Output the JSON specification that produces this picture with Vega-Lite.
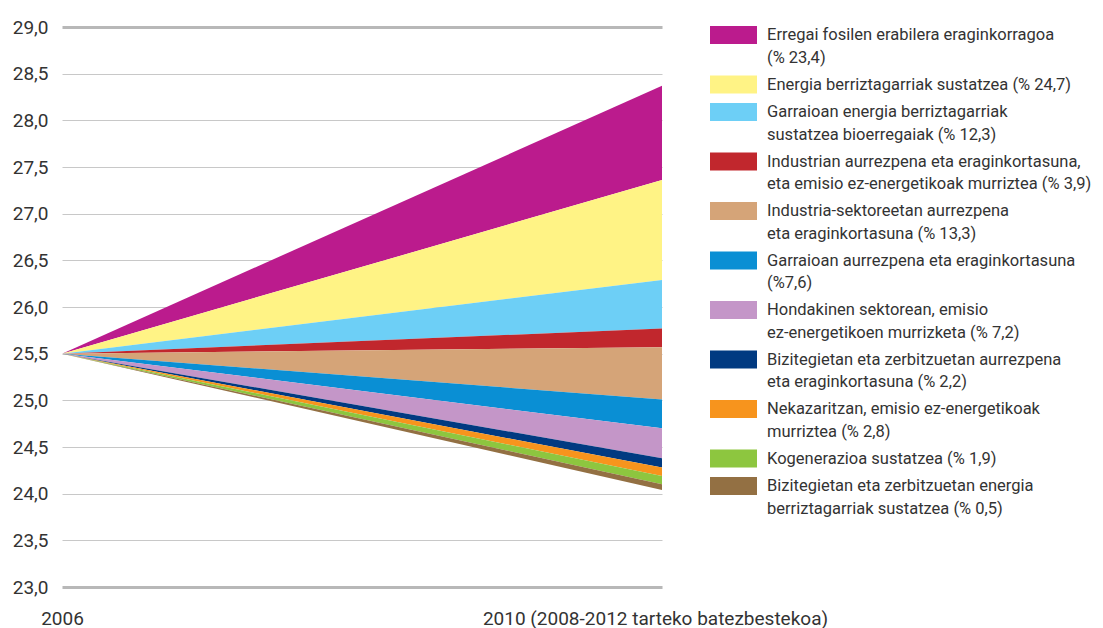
{
  "$schema": "https://vega.github.io/schema/vega-lite/v6.json",
  "width": 600,
  "height": 560,
  "autosize": "none",
  "padding": {"left": 62, "top": 27, "right": 441, "bottom": 41},
  "background": "white",
  "config": {"view": {"stroke": null}, "font": "Roboto"},
  "data": {
    "values": [
      {"year": 2006, "g": "Erregai fosilen erabilera eraginkorragoa|(% 23,4)", "lo": 25.5, "hi": 25.5},
      {"year": 2010, "g": "Erregai fosilen erabilera eraginkorragoa|(% 23,4)", "lo": 27.36, "hi": 28.37},
      {"year": 2006, "g": "Energia berriztagarriak sustatzea (% 24,7)", "lo": 25.5, "hi": 25.5},
      {"year": 2010, "g": "Energia berriztagarriak sustatzea (% 24,7)", "lo": 26.29, "hi": 27.36},
      {"year": 2006, "g": "Garraioan energia berriztagarriak|sustatzea bioerregaiak (% 12,3)", "lo": 25.5, "hi": 25.5},
      {"year": 2010, "g": "Garraioan energia berriztagarriak|sustatzea bioerregaiak (% 12,3)", "lo": 25.77, "hi": 26.29},
      {"year": 2006, "g": "Industrian aurrezpena eta eraginkortasuna,|eta emisio ez-energetikoak murriztea (% 3,9)", "lo": 25.5, "hi": 25.5},
      {"year": 2010, "g": "Industrian aurrezpena eta eraginkortasuna,|eta emisio ez-energetikoak murriztea (% 3,9)", "lo": 25.57, "hi": 25.77},
      {"year": 2006, "g": "Industria-sektoreetan aurrezpena|eta eraginkortasuna (% 13,3)", "lo": 25.5, "hi": 25.5},
      {"year": 2010, "g": "Industria-sektoreetan aurrezpena|eta eraginkortasuna (% 13,3)", "lo": 25.01, "hi": 25.57},
      {"year": 2006, "g": "Garraioan aurrezpena eta eraginkortasuna|(%7,6)", "lo": 25.5, "hi": 25.5},
      {"year": 2010, "g": "Garraioan aurrezpena eta eraginkortasuna|(%7,6)", "lo": 24.7, "hi": 25.01},
      {"year": 2006, "g": "Hondakinen sektorean, emisio|ez-energetikoen murrizketa (% 7,2)", "lo": 25.5, "hi": 25.5},
      {"year": 2010, "g": "Hondakinen sektorean, emisio|ez-energetikoen murrizketa (% 7,2)", "lo": 24.38, "hi": 24.7},
      {"year": 2006, "g": "Bizitegietan eta zerbitzuetan aurrezpena|eta eraginkortasuna (% 2,2)", "lo": 25.5, "hi": 25.5},
      {"year": 2010, "g": "Bizitegietan eta zerbitzuetan aurrezpena|eta eraginkortasuna (% 2,2)", "lo": 24.28, "hi": 24.38},
      {"year": 2006, "g": "Nekazaritzan, emisio ez-energetikoak|murriztea (% 2,8)", "lo": 25.5, "hi": 25.5},
      {"year": 2010, "g": "Nekazaritzan, emisio ez-energetikoak|murriztea (% 2,8)", "lo": 24.19, "hi": 24.28},
      {"year": 2006, "g": "Kogenerazioa sustatzea (% 1,9)", "lo": 25.5, "hi": 25.5},
      {"year": 2010, "g": "Kogenerazioa sustatzea (% 1,9)", "lo": 24.1, "hi": 24.19},
      {"year": 2006, "g": "Bizitegietan eta zerbitzuetan energia|berriztagarriak sustatzea (% 0,5)", "lo": 25.5, "hi": 25.5},
      {"year": 2010, "g": "Bizitegietan eta zerbitzuetan energia|berriztagarriak sustatzea (% 0,5)", "lo": 24.04, "hi": 24.1}
    ]
  },
  "mark": {"type": "area", "opacity": 1, "strokeWidth": 0},
  "encoding": {
    "x": {
      "field": "year", "type": "quantitative",
      "scale": {"domain": [2006, 2010], "nice": false, "zero": false},
      "axis": {
        "title": null, "values": [2006, 2010], "grid": false, "domain": false, "ticks": false,
        "labelExpr": "datum.value == 2006 ? '2006' : '2010 (2008-2012 tarteko batezbestekoa)'",
        "labelFontSize": 19, "labelColor": "#333333", "labelPadding": 22, "labelFlush": false,
        "labelOverlap": false, "labelLimit": 0, "labelBound": false,
        "labelOffset": {"condition": {"test": "datum.value == 2010", "value": -7}, "value": 0}
      }
    },
    "y": {
      "field": "hi", "type": "quantitative",
      "scale": {"domain": [23, 29], "nice": false, "zero": false},
      "axis": {
        "title": null, "values": [23, 23.5, 24, 24.5, 25, 25.5, 26, 26.5, 27, 27.5, 28, 28.5, 29],
        "domain": false, "ticks": false,
        "labelExpr": "replace(format(datum.value, '.1f'), '.', ',')",
        "labelFontSize": 19, "labelColor": "#333333", "labelPadding": 14,
        "gridColor": {"condition": {"test": "datum.value == 23 || datum.value == 29", "value": "#b8b8b8"}, "value": "#c8c8c8"},
        "gridWidth": {"condition": {"test": "datum.value == 23 || datum.value == 29", "value": 3}, "value": 1}
      }
    },
    "y2": {"field": "lo"},
    "color": {
      "field": "g", "type": "nominal",
      "scale": {
        "domain": [
          "Erregai fosilen erabilera eraginkorragoa|(% 23,4)",
          "Energia berriztagarriak sustatzea (% 24,7)",
          "Garraioan energia berriztagarriak|sustatzea bioerregaiak (% 12,3)",
          "Industrian aurrezpena eta eraginkortasuna,|eta emisio ez-energetikoak murriztea (% 3,9)",
          "Industria-sektoreetan aurrezpena|eta eraginkortasuna (% 13,3)",
          "Garraioan aurrezpena eta eraginkortasuna|(%7,6)",
          "Hondakinen sektorean, emisio|ez-energetikoen murrizketa (% 7,2)",
          "Bizitegietan eta zerbitzuetan aurrezpena|eta eraginkortasuna (% 2,2)",
          "Nekazaritzan, emisio ez-energetikoak|murriztea (% 2,8)",
          "Kogenerazioa sustatzea (% 1,9)",
          "Bizitegietan eta zerbitzuetan energia|berriztagarriak sustatzea (% 0,5)"
        ],
        "range": ["#bb1b8d", "#fff385", "#6dcff6", "#c1272d", "#d5a478", "#0a8fd4", "#c496c8", "#013a81", "#f7941d", "#8dc63f", "#937043"]
      },
      "legend": {
        "title": null, "orient": "none", "legendX": 648, "legendY": -1,
        "padding": 0, "rowPadding": 9.5, "labelOffset": 39, "labelLimit": 400,
        "labelFontSize": 16.5, "labelColor": "#333333",
        "labelExpr": "split(datum.label, '|')",
        "symbolType": "M-1,-1H4.2222V1H-1Z", "symbolSize": 324,
        "symbolStrokeWidth": 0, "symbolOpacity": 1,
        "encode": {"labels": {"update": {"lineHeight": {"value": 22.5}}}}
      }
    }
  }
}
